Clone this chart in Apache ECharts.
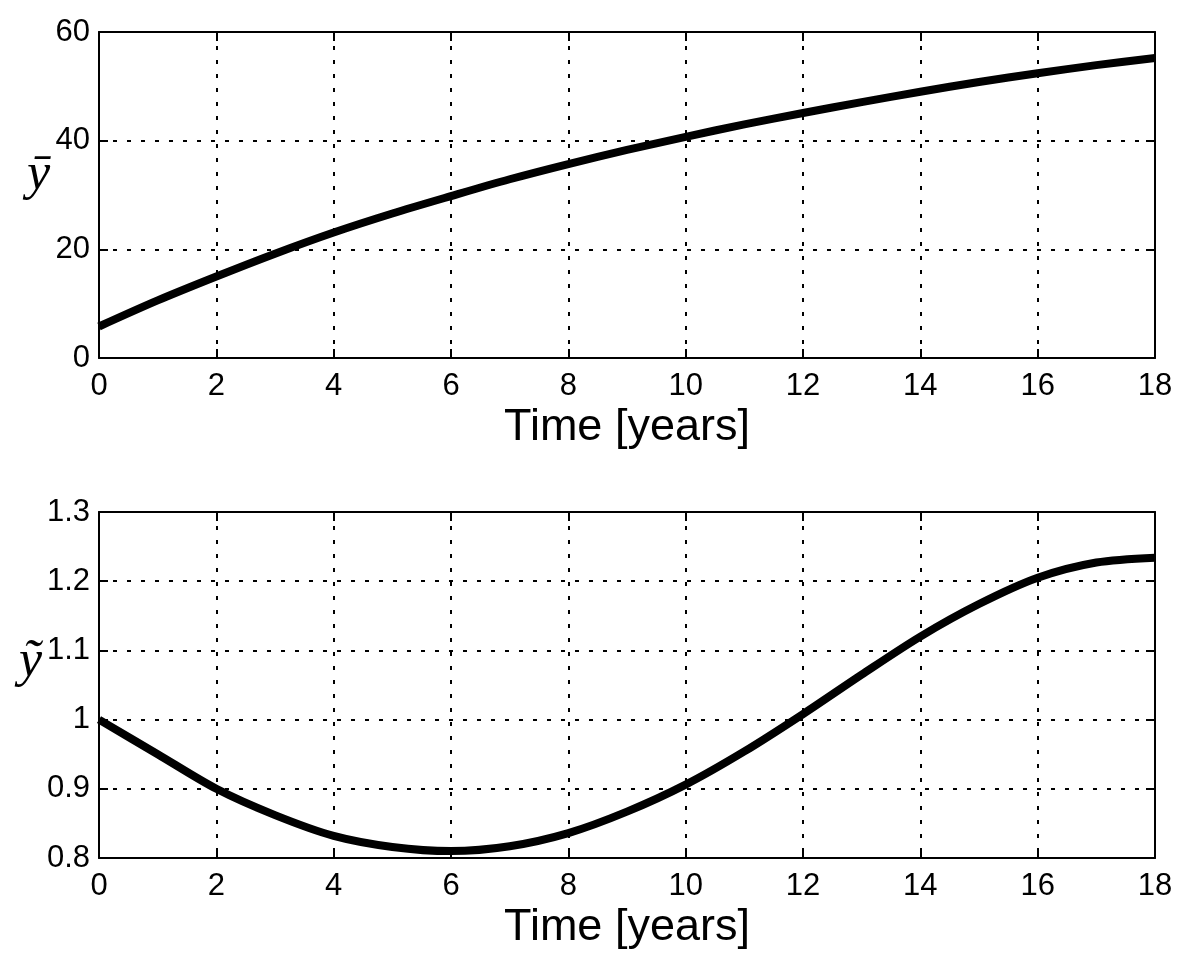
<!DOCTYPE html>
<html>
<head>
<meta charset="utf-8">
<script src="https://cdn.jsdelivr.net/npm/echarts@6/dist/echarts.min.js"></script>
<style>
  html, body { margin: 0; padding: 0; background: #fff; }
  #chart { width: 1200px; height: 977px; }
</style>
</head>
<body>
<div id="chart"></div>
<script>
// time axis, years
const years = [0, 1, 2, 3, 4, 5, 6, 7, 8, 9, 10, 11, 12, 13, 14, 15, 16, 17, 18]
// upper panel: y bar
const yBar = [5.8, 10.6, 15.0, 19.2, 23.1, 26.6, 29.8, 32.9, 35.7, 38.3, 40.7, 43.0, 45.1, 47.1, 49.0, 50.8, 52.4, 53.9, 55.2]
// lower panel: y tilde
const yTilde = [1.0, 0.950, 0.900, 0.862, 0.832, 0.816, 0.810, 0.817, 0.836, 0.867, 0.906, 0.954, 1.008, 1.065, 1.120, 1.167, 1.205, 1.227, 1.234]

const xLabel = 'Time [years]'
const fontSans = '"Liberation Sans", Arial, sans-serif'

const chart = echarts.init(document.getElementById('chart'))

const gridLine = {
  show: true,
  lineStyle: { color: '#000', width: 2, type: [4, 10] }
}

function bottomAxis(gridIndex) {
  return {
    type: 'value', gridIndex, position: 'bottom',
    min: 0, max: 18, interval: 2,
    name: xLabel, nameLocation: 'middle', nameGap: 47,
    nameTextStyle: { fontFamily: fontSans, fontSize: 45, color: '#000' },
    axisLine: { show: true, onZero: false, lineStyle: { color: '#000', width: 2 } },
    axisTick: { show: true, inside: true, length: 9, lineStyle: { color: '#000', width: 2 } },
    axisLabel: { fontFamily: fontSans, fontSize: 31, color: '#000', margin: 13 },
    splitLine: gridLine
  }
}

function topAxis(gridIndex) {
  return {
    type: 'value', gridIndex, position: 'top',
    min: 0, max: 18, interval: 2,
    axisLine: { show: true, onZero: false, lineStyle: { color: '#000', width: 2 } },
    axisTick: { show: true, inside: true, length: 9, lineStyle: { color: '#000', width: 2 } },
    axisLabel: { show: false },
    splitLine: { show: false }
  }
}

function leftAxis(gridIndex, min, max, interval) {
  return {
    type: 'value', gridIndex, position: 'left',
    min, max, interval,
    axisLine: { show: true, onZero: false, lineStyle: { color: '#000', width: 2 } },
    axisTick: { show: true, inside: true, length: 9, lineStyle: { color: '#000', width: 2 } },
    axisLabel: { fontFamily: fontSans, fontSize: 31, color: '#000', margin: 9 },
    splitLine: gridLine
  }
}

function rightAxis(gridIndex, min, max, interval) {
  return {
    type: 'value', gridIndex, position: 'right',
    min, max, interval,
    axisLine: { show: true, onZero: false, lineStyle: { color: '#000', width: 2 } },
    axisTick: { show: true, inside: true, length: 9, lineStyle: { color: '#000', width: 2 } },
    axisLabel: { show: false },
    splitLine: { show: false }
  }
}

chart.setOption({
  backgroundColor: '#fff',
  animation: false,
  grid: [
    { left: 99, top: 32, width: 1056, height: 326 },
    { left: 99, top: 512, width: 1056, height: 346 }
  ],
  xAxis: [bottomAxis(0), topAxis(0), bottomAxis(1), topAxis(1)],
  yAxis: [
    leftAxis(0, 0, 60, 20), rightAxis(0, 0, 60, 20),
    leftAxis(1, 0.8, 1.3, 0.1), rightAxis(1, 0.8, 1.3, 0.1)
  ],
  graphic: [
    {
      type: 'text', left: 27, top: 149,
      style: { text: 'ȳ', font: 'italic 52px "Liberation Serif", serif', fill: '#000' }
    },
    {
      type: 'text', left: 19, top: 636,
      style: { text: 'ỹ', font: 'italic 52px "Liberation Serif", serif', fill: '#000' }
    }
  ],
  series: [
    {
      type: 'line', xAxisIndex: 0, yAxisIndex: 0,
      data: years.map((t, i) => [t, yBar[i]]),
      smooth: 0.3, showSymbol: false,
      lineStyle: { color: '#000', width: 8 }
    },
    {
      type: 'line', xAxisIndex: 2, yAxisIndex: 2,
      data: years.map((t, i) => [t, yTilde[i]]),
      smooth: 0.3, showSymbol: false,
      lineStyle: { color: '#000', width: 8 }
    }
  ]
})
</script>
</body>
</html>
